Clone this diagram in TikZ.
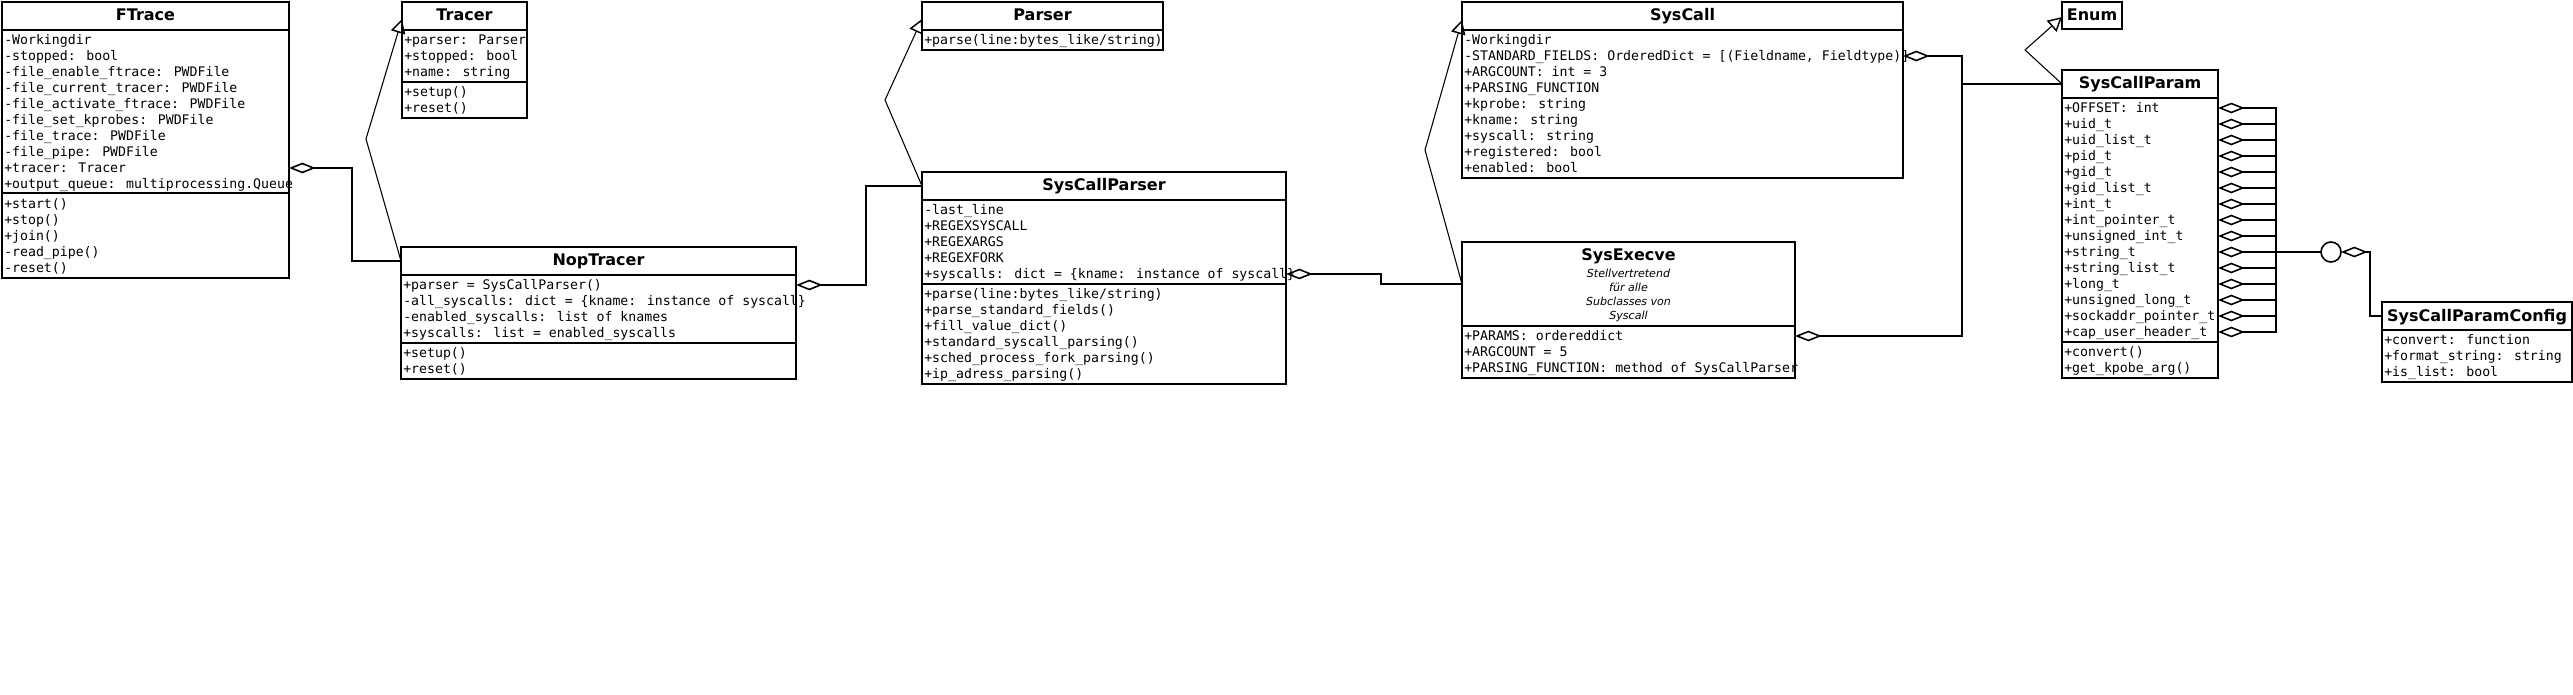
\documentclass[tikz,border=0pt]{standalone}
\usepackage{fontspec}
\newfontfamily\monofnt{DejaVu Sans Mono}
\newfontfamily\sansfnt{DejaVu Sans}
\usetikzlibrary{arrows.meta,calc,fit}
\tikzset{
  umlbox/.style={draw, line width=1.5pt, inner sep=0pt, outer sep=0pt},
  sepline/.style={line width=1.5pt},
  ctitle/.style={font=\sansfnt\bfseries\fontsize{12pt}{14pt}\selectfont, anchor=base, inner sep=0pt},
  ctext/.style={font=\monofnt\fontsize{9.9pt}{12pt}\selectfont, anchor=north west, align=left, inner sep=0pt},
  cnote/.style={font=\sansfnt\itshape\fontsize{8.3pt}{10.5pt}\selectfont, anchor=north, align=center, inner sep=0pt},
  agg/.style={line width=1.2pt, -{Diamond[open, length=20pt, width=8pt]}},
  gen/.style={line width=0.8pt, -{Triangle[open, length=10.5pt, width=11pt, line width=1.1pt]}},
  junction/.style={circle, draw, line width=1.2pt, minimum size=15pt, inner sep=0pt, outer sep=0pt}
}
\begin{document}
\begin{tikzpicture}[x=0.75pt, y=-0.75pt]
\fill[white] (0,0) rectangle (2573,695);
\useasboundingbox (0,0) rectangle (2573,695);

% ---------- FTrace
\node[umlbox, fit={(2,2) (289,278)}] (ftrace) {};
\draw[sepline] (2,30) -- (289,30);
\draw[sepline] (2,193.5) -- (289,193.5);
\node[ctitle] (ftrace-t) at (145.5,21) {FTrace};
\node[ctext] (ftrace-a) at (4,33.3) {\strut -Workingdir\\-stopped: bool\\-file\_enable\_ftrace: PWDFile\\-file\_current\_tracer: PWDFile\\-file\_activate\_ftrace: PWDFile\\-file\_set\_kprobes: PWDFile\\-file\_trace: PWDFile\\-file\_pipe: PWDFile\\+tracer: Tracer\\+output\_queue: multiprocessing.Queue};
\node[ctext] (ftrace-m) at (4,196.8) {\strut +start()\\+stop()\\+join()\\-read\_pipe()\\-reset()};

% ---------- Tracer
\node[umlbox, fit={(402,2) (527,118)}] (tracer) {};
\draw[sepline] (402,30) -- (527,30);
\draw[sepline] (402,82) -- (527,82);
\node[ctitle] (tracer-t) at (464.5,21) {Tracer};
\node[ctext] (tracer-a) at (404,33.3) {\strut +parser: Parser\\+stopped: bool\\+name: string};
\node[ctext] (tracer-m) at (404,85.3) {\strut +setup()\\+reset()};

% ---------- NopTracer
\node[umlbox, fit={(401,247) (796,379)}] (nop) {};
\draw[sepline] (401,275) -- (796,275);
\draw[sepline] (401,343) -- (796,343);
\node[ctitle] (nop-t) at (598.5,266) {NopTracer};
\node[ctext] (nop-a) at (403,278.3) {\strut +parser = SysCallParser()\\-all\_syscalls: dict = \{kname: instance of syscall\}\\-enabled\_syscalls: list of knames\\+syscalls: list = enabled\_syscalls};
\node[ctext] (nop-m) at (403,346.3) {\strut +setup()\\+reset()};

% ---------- Parser
\node[umlbox, fit={(922,2) (1163,50)}] (parser) {};
\draw[sepline] (922,30) -- (1163,30);
\node[ctitle] (parser-t) at (1042.5,21) {Parser};
\node[ctext] (parser-m) at (924,33.3) {\strut +parse(line:bytes\_like/string)};

% ---------- SysCallParser
\node[umlbox, fit={(922,172) (1286,384)}] (scparser) {};
\draw[sepline] (922,200) -- (1286,200);
\draw[sepline] (922,284) -- (1286,284);
\node[ctitle] (scparser-t) at (1104,191) {SysCallParser};
\node[ctext] (scparser-a) at (924,203.3) {\strut -last\_line\\+REGEXSYSCALL\\+REGEXARGS\\+REGEXFORK\\+syscalls: dict = \{kname: instance of syscall\}};
\node[ctext] (scparser-m) at (924,287.3) {\strut +parse(line:bytes\_like/string)\\+parse\_standard\_fields()\\+fill\_value\_dict()\\+standard\_syscall\_parsing()\\+sched\_process\_fork\_parsing()\\+ip\_adress\_parsing()};

% ---------- SysCall
\node[umlbox, fit={(1462,2) (1903,178)}] (syscall) {};
\draw[sepline] (1462,30) -- (1903,30);
\node[ctitle] (syscall-t) at (1682.5,21) {SysCall};
\node[ctext] (syscall-a) at (1464,33.3) {\strut -Workingdir\\-STANDARD\_FIELDS: OrderedDict = [(Fieldname, Fieldtype)]\\+ARGCOUNT: int = 3\\+PARSING\_FUNCTION\\+kprobe: string\\+kname: string\\+syscall: string\\+registered: bool\\+enabled: bool};

% ---------- SysExecve
\node[umlbox, fit={(1462,242) (1795,378)}] (execve) {};
\draw[sepline] (1462,326) -- (1795,326);
\node[ctitle] (execve-t) at (1628.5,261) {SysExecve};
\node[cnote] (execve-n) at (1628.5,267.7) {\strut Stellvertretend\\für alle\\Subclasses von\\Syscall};
\node[ctext] (execve-a) at (1464,329.3) {\strut +PARAMS: ordereddict\\+ARGCOUNT = 5\\+PARSING\_FUNCTION: method of SysCallParser};

% ---------- Enum
\node[umlbox, fit={(2062,2) (2122,29)}] (enum) {};
\node[ctitle] (enum-t) at (2092,21) {Enum};

% ---------- SysCallParam
\node[umlbox, fit={(2062,70) (2218,378)}] (scparam) {};
\draw[sepline] (2062,98) -- (2218,98);
\draw[sepline] (2062,342) -- (2218,342);
\node[ctitle] (scparam-t) at (2140,89) {SysCallParam};
\node[ctext] (scparam-a) at (2064,101.3) {\strut +OFFSET: int\\+uid\_t\\+uid\_list\_t\\+pid\_t\\+gid\_t\\+gid\_list\_t\\+int\_t\\+int\_pointer\_t\\+unsigned\_int\_t\\+string\_t\\+string\_list\_t\\+long\_t\\+unsigned\_long\_t\\+sockaddr\_pointer\_t\\+cap\_user\_header\_t};
\node[ctext] (scparam-m) at (2064,345.3) {\strut +convert()\\+get\_kpobe\_arg()};

% ---------- SysCallParamConfig
\node[umlbox, fit={(2382,302) (2572,382)}] (cfg) {};
\draw[sepline] (2382,330) -- (2572,330);
\node[ctitle] (cfg-t) at (2477,321) {SysCallParamConfig};
\node[ctext] (cfg-a) at (2384,333.3) {\strut +convert: function\\+format\_string: string\\+is\_list: bool};

% ---------- junction circle
\node[junction] (circ) at (2331,252) {};

% ---------- connectors
\draw[agg] ($(nop.north west)+(0,14)$) -| (352,168) -- ($(ftrace.north east)+(0,166)$);
\draw[gen] ($(nop.north west)+(0,14)$) -- (366,139) -- ($(tracer.north west)+(0,17)$);
\draw[agg] ($(scparser.north west)+(0,14)$) -| (866,285) -- ($(nop.north east)+(0,38)$);
\draw[gen] ($(scparser.north west)+(0,14)$) -- (885,100) -- ($(parser.north west)+(0,17)$);
\draw[agg] ($(execve.north west)+(0,42)$) -| (1381,274) -- ($(scparser.north east)+(0,102)$);
\draw[gen] ($(execve.north west)+(0,42)$) -- (1425,150) -- ($(syscall.north west)+(0,18)$);
\draw[agg] ($(scparam.north west)+(0,14)$) -| (1962,56) -- ($(syscall.north east)+(0,54)$);
\draw[agg] ($(scparam.north west)+(0,14)$) -| (1962,336) -- ($(execve.north east)+(0,94)$);
\draw[gen] ($(scparam.north west)+(0,14)$) -- (2025,50) -- ($(enum.north west)+(0,15)$);
\foreach \k in {0,...,14} {
  \draw[agg] (circ.west) -- (2276,252) |- ($(scparam.north east)+(0,38+16*\k)$);
}
\draw[agg] ($(cfg.north west)+(0,14)$) -| (2370,252) -- (circ.east);
\end{tikzpicture}
\end{document}
